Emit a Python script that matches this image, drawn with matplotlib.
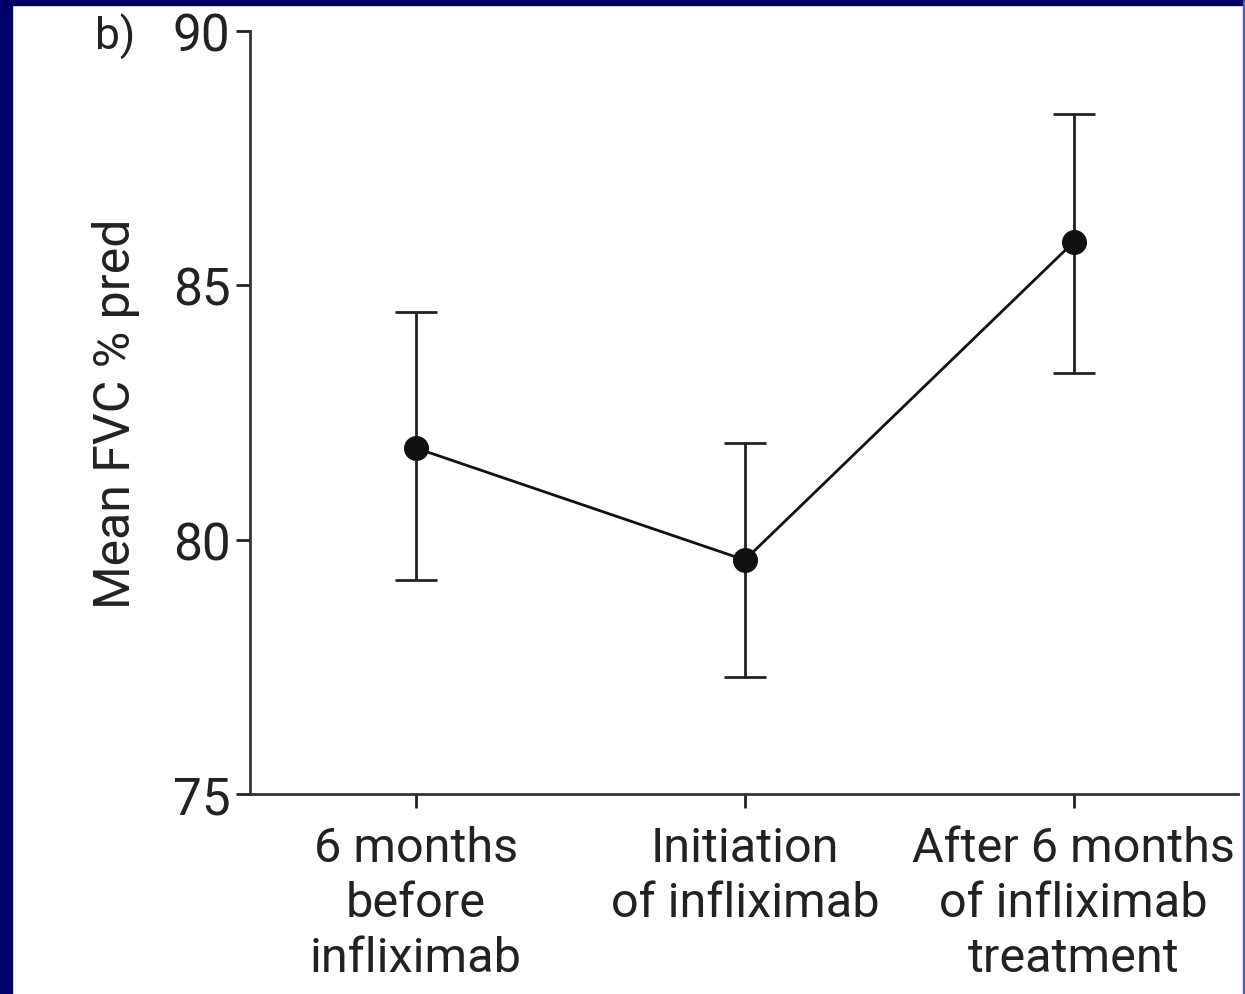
import matplotlib
matplotlib.use("Agg")
import matplotlib.pyplot as plt
from matplotlib.patches import Rectangle

categories = ["6 months\nbefore\ninfliximab", "Initiation\nof infliximab", "After 6 months\nof infliximab\ntreatment"]
means = [81.8, 79.6, 85.85]
err_low = [2.6, 2.3, 2.57]
err_high = [2.68, 2.3, 2.52]
yticks = [75, 80, 85, 90]

plt.rcParams['font.family'] = ['Roboto', 'DejaVu Sans']

fig = plt.figure(figsize=(12.45, 9.95), dpi=100)
ax = fig.add_axes([250/1245, 1-795/995, (1238-250)/1245, (795-32)/995])

x = list(range(len(categories)))
ax.errorbar(x, means, yerr=[err_low, err_high], fmt='o', color='#111111',
            ecolor='#222222', elinewidth=2, capsize=15, capthick=2,
            markersize=17, linestyle='-', linewidth=2)

ax.set_xlim(-0.505, 2.5)
ax.set_ylim(75, 90)
ax.set_yticks(yticks)
ax.set_xticks(x)
ax.set_xticklabels(categories, fontsize=35, color='#222222', linespacing=1.25)
ax.tick_params(axis='y', labelsize=37, colors='#222222', length=10, width=2, pad=4)
ax.tick_params(axis='x', length=10, width=2, colors='#222222', pad=12)
for s in ['top', 'right']:
    ax.spines[s].set_visible(False)
for s in ['left', 'bottom']:
    ax.spines[s].set_linewidth(2)
    ax.spines[s].set_color('#333333')
ax.set_ylabel("Mean FVC % pred", fontsize=36, color='#222222', labelpad=24)

fig.text(95/1245, 1-50/995, "b)", fontsize=32, color='#222222')

navy = '#00006B'
fig.patches.append(Rectangle((0, 0), 12/1245, 1, transform=fig.transFigure, color=navy, zorder=10))
fig.patches.append(Rectangle((0, 1-6/995), 1, 6/995, transform=fig.transFigure, color=navy, zorder=10))
fig.patches.append(Rectangle((1-2/1245, 0), 2/1245, 1, transform=fig.transFigure, color='#5060A0', zorder=10))

fig.savefig("out.png", dpi=100)
